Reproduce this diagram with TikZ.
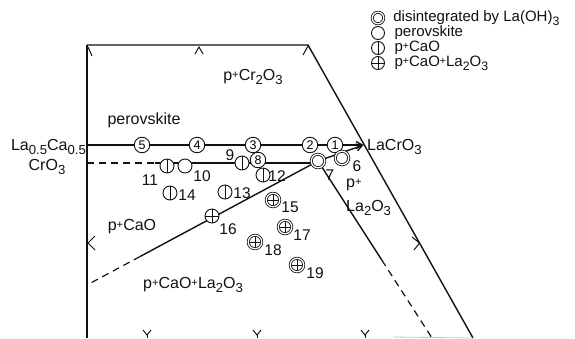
\documentclass[tikz,border=0pt]{standalone}
\usepackage{fontspec}
\setmainfont{Liberation Sans}
\usetikzlibrary{arrows.meta,positioning,calc}
\definecolor{Ink}{HTML}{111111}
\newcommand\dn[1]{\raisebox{-0.55ex}{\scalebox{0.82}{#1}}}
\newcommand\pl{\raisebox{0.25ex}{\scalebox{0.7}{+}}}

\begin{document}
\begin{tikzpicture}[x=1pt,y=-1pt,
  edge/.style={Ink,line width=1.4pt},
  dashedge/.style={Ink,line width=1.2pt,dash pattern=on 7pt off 5pt},
  tick/.style={Ink,line width=1pt},
  lbl/.style={font=\fontsize{16}{18}\selectfont,text=Ink,inner sep=0pt},
  lgd/.style={font=\fontsize{15}{17}\selectfont,text=Ink,inner sep=0pt,anchor=west},
  num/.style={font=\fontsize{15.5}{17}\selectfont,text=Ink,inner sep=0pt},
  samp/.style={circle,draw=Ink,fill=white,line width=0.9pt,minimum size=14pt,inner sep=0pt},
  cnum/.style={samp,minimum size=15.5pt,font=\fontsize{12.5}{12}\selectfont},
  dbl/.style={samp,minimum size=13.5pt,line width=0.8pt,double=white,double distance=1.3pt},
  vbar/.style={path picture={\draw[Ink,line width=0.8pt] (path picture bounding box.north) -- (path picture bounding box.south);}},
  cross/.style={path picture={\draw[Ink,line width=0.8pt] (path picture bounding box.north) -- (path picture bounding box.south);
    \draw[Ink,line width=0.8pt] (path picture bounding box.west) -- (path picture bounding box.east);}},
  tip/.style={-{Straight Barb[length=6pt,width=7pt]}}]
\useasboundingbox (0,0) rectangle (575,338);
% frame of the section
\coordinate (tl) at (87,45);
\coordinate (tr) at (308,45);
\coordinate (br) at (473,338);
\coordinate (bl) at (87,338);
\coordinate (lcc) at (87,145);
\coordinate (lco) at (363.5,145);
\coordinate (c7) at (318,161);
\coordinate (bleft) at (87,163);
\coordinate (bdash) at (155,163);
\coordinate (cleft) at (87,285);
\coordinate (cdash) at ($(c7)!0.77!(cleft)$);
\coordinate (dbot) at (432,338);
\coordinate (ddash) at ($(c7)!0.56!(dbot)$);
\draw[edge] (tl) -- (tr) -- (br);
\draw[edge] (tl) -- (bl);
\draw[Ink!25,line width=0.8pt] (393,337) -- (br);
\draw[edge,tip] (lcc) -- (lco);
\draw[edge,tip] (c7) -- (lco);
\draw[dashedge] (bleft) -- (bdash);
\draw[edge] (bdash) -- (c7 |- bdash);
\draw[edge] (c7) -- (cdash);
\draw[dashedge] (cdash) -- (cleft);
\draw[edge] (c7) -- (ddash);
\draw[dashedge] (ddash) -- (dbot);
% ticks
\draw[tick] (88,47) -- (92,56);
\draw[tick] (195,54) -- (199,47) -- (203,54);
\draw[tick] (308,46) -- (303,55);
\draw[tick] (95,236) -- (88,243) -- (95,250);
\draw[tick] (412,237) -- (419.5,243) -- (414,250);
\draw[tick] (143,330) -- (147,335) -- (151,330);
\draw[tick] (147,335) -- (147,338);
\draw[tick] (253,330) -- (257,335) -- (261,330);
\draw[tick] (257,335) -- (257,338);
\draw[tick] (361,330) -- (365,335) -- (369,330);
\draw[tick] (365,335) -- (365,338);
% phase fields
\node[lbl] (pcr) at (253,77) {p\pl Cr\dn{2}O\dn{3}};
\node[lbl] (perov) at (144,120) {perovskite};
\node[lbl,anchor=base east] (lcca) at (86,150) {La\dn{0.5}Ca\dn{0.5}};
\node[lbl,anchor=base] (lccb) at (47,170) {CrO\dn{3}};
\node[lbl,anchor=base west] (lcol) at (367,150) {LaCrO\dn{3}};
\node[lbl,anchor=west] (pla1) at (346,185) {p\pl};
\node[lbl,anchor=west] (pla2) at (346,208) {La\dn{2}O\dn{3}};
\node[lbl] (pcao) at (132,227) {p\pl CaO};
\node[lbl] (pcaola) at (193,285) {p\pl CaO\pl La\dn{2}O\dn{3}};
% samples
\node[cnum] (s1) at (335,145) {1};
\node[cnum] (s2) at (310,145) {2};
\node[cnum] (s3) at (253,145) {3};
\node[cnum] (s4) at (197,145) {4};
\node[cnum] (s5) at (142,145) {5};
\node[cnum] (s8) at (258,160) {8};
\node[samp,vbar] (s9) at (242,163) {};
\node[samp] (s10) at (185,166) {};
\node[samp,vbar] (s11) at (167,166) {};
\node[samp,vbar] (s12) at (263,175) {};
\node[samp,vbar] (s13) at (225,192) {};
\node[samp,vbar] (s14) at (170,193) {};
\node[dbl] (s6) at (342,158) {};
\node[dbl] (s7) at (c7) {};
\node[dbl,cross] (s15) at (273,200) {};
\node[samp,cross] (s16) at (212,216) {};
\node[dbl,cross] (s17) at (285,227) {};
\node[dbl,cross] (s18) at (255,242) {};
\node[dbl,cross] (s19) at (297,265) {};
\node[num] (n6) at (357,166) {6};
\node[num] (n7) at (330,175) {7};
\node[num] (n9) at (230,155) {9};
\node[num] (n10) at (202,176) {10};
\node[num] (n11) at (150,180) {11};
\node[num] (n12) at (277,176) {12};
\node[num] (n13) at (242,193) {13};
\node[num] (n14) at (187,195) {14};
\node[num] (n15) at (290,207) {15};
\node[num] (n16) at (228,229) {16};
\node[num] (n17) at (302,235) {17};
\node[num] (n18) at (273,250) {18};
\node[num] (n19) at (315,273) {19};
% key
\node[dbl,minimum size=11.5pt] (k1) at (378,18) {};
\node[samp,minimum size=13pt] (k2) at (378,33) {};
\node[samp,minimum size=13pt,vbar] (k3) at (378,48) {};
\node[samp,minimum size=13pt,cross] (k4) at (378,63) {};
\node[lgd,right=9pt of k1] (t1) {disintegrated by La(OH)\dn{3}};
\node[lgd,right=9.5pt of k2] (t2) {perovskite};
\node[lgd,right=9.5pt of k3] (t3) {p\pl CaO};
\node[lgd,right=9.5pt of k4] (t4) {p\pl CaO\pl La\dn{2}O\dn{3}};
\end{tikzpicture}
\end{document}
